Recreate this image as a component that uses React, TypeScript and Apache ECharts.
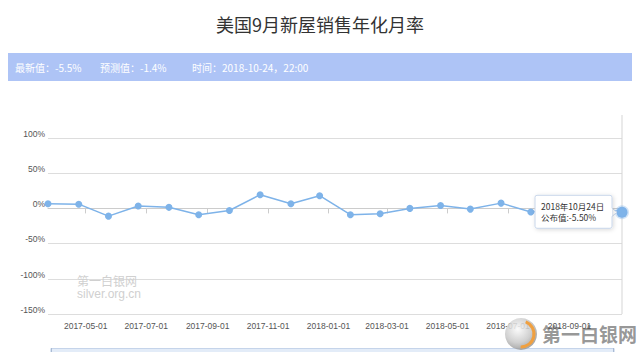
import React, { useEffect, useRef } from "react";
import * as echarts from "echarts";

const titleText = "美国9月新屋销售年化月率";
const bannerTexts = ["最新值：-5.5%", "预测值：-1.4%", "时间：2018-10-24，22:00"];
const releaseDates = [
  "2017-03-24", "2017-04-24", "2017-05-24", "2017-06-23", "2017-07-24",
  "2017-08-23", "2017-09-23", "2017-10-24", "2017-11-24", "2017-12-23",
  "2018-01-23", "2018-02-22", "2018-03-24", "2018-04-24", "2018-05-24",
  "2018-06-24", "2018-07-24", "2018-08-24", "2018-09-24", "2018-10-24",
];
const monthlyRates = [
  6.5, 6, -11, 3.5, 1.5, -9, -3, 19.5, 6.5, 18,
  -9, -7.5, 0, 4, -1, 7.5, -5, -1.7, 3.5, -5.5,
];
const yTicks = { min: -150, max: 100, interval: 50 };
const tooltipLines = ["2018年10月24日", "公布值:-5.50%"];
const watermarkLines = ["第一白银网", "silver.org.cn"];
const logoText = "第一白银网";

const LINE = "#7eb3e9";
const FONT = '"Liberation Sans", Arial, "Noto Sans CJK SC", sans-serif';
const CJK = '"Noto Sans CJK SC", "Microsoft YaHei", sans-serif';

function pad(n: number) {
  return n < 10 ? "0" + n : "" + n;
}

export default function App() {
  const ref = useRef<HTMLDivElement>(null);
  useEffect(() => {
    document.body.style.margin = "0";
    const chart = echarts.init(ref.current!, undefined, { renderer: "svg" });
    const data = releaseDates.map((d, i) => {
      const last = i === releaseDates.length - 1;
      return {
        value: [d, monthlyRates[i]],
        symbolSize: last ? 11 : 7,
        itemStyle: last
          ? { color: LINE, borderColor: "rgba(126,179,233,0.35)", borderWidth: 3 }
          : { color: LINE },
      };
    });
    chart.setOption({
      animation: false,
      title: {
        text: titleText,
        left: "center",
        top: 10,
        textStyle: { fontSize: 18, fontWeight: "normal", color: "#333", fontFamily: CJK },
      },
      grid: { left: 48, right: 18, top: 138, bottom: 38 },
      xAxis: {
        type: "time",
        min: "dataMin",
        max: "dataMax",
        splitNumber: 8,
        axisLine: { lineStyle: { color: "#ccc" } },
        axisTick: { show: true, length: 5, lineStyle: { color: "#ccc" } },
        splitLine: { show: false },
        axisLabel: {
          color: "#555",
          fontSize: 8.5,
          fontFamily: FONT,
          margin: 8,
          showMinLabel: false,
          showMaxLabel: false,
          hideOverlap: false,
          formatter: (v: number) => {
            const d = new Date(v);
            return d.getFullYear() + "-" + pad(d.getMonth() + 1) + "-" + pad(d.getDate());
          },
        },
      },
      yAxis: {
        type: "value",
        min: yTicks.min,
        max: yTicks.max,
        interval: yTicks.interval,
        axisLine: { show: false },
        axisTick: { show: false },
        splitLine: { lineStyle: { color: "#ddd" } },
        axisLabel: {
          formatter: "{value}%",
          color: "#555",
          fontSize: 8.5,
          fontFamily: FONT,
          margin: 3,
          verticalAlign: "bottom",
        },
      },
      dataZoom: [
        {
          type: "slider",
          xAxisIndex: 0,
          start: 0,
          end: 100,
          left: 48,
          right: 28,
          top: 348,
          height: 30,
          showDetail: false,
          brushSelect: false,
          moveHandleSize: 0,
          borderColor: "#c5d4ea",
          fillerColor: "rgba(200,218,242,0.45)",
          backgroundColor: "rgba(245,248,252,0.6)",
          handleStyle: { color: "#fff", borderColor: "#aabbd4" },
        },
      ],
      series: [
        {
          type: "line",
          data,
          symbol: "circle",
          showSymbol: true,
          lineStyle: { color: LINE, width: 1.5 },
          itemStyle: { color: LINE },
          z: 3,
        },
      ],
    });

    const lastIdx = releaseDates.length - 1;
    const [px, py] = chart.convertToPixel({ seriesIndex: 0 }, [
      releaseDates[lastIdx],
      monthlyRates[lastIdx],
    ]) as number[];
    const yTop = chart.convertToPixel({ yAxisIndex: 0 }, yTicks.max) as number;
    const yBottom = chart.convertToPixel({ yAxisIndex: 0 }, yTicks.min) as number;

    const tipW = 77;
    const tipH = 33;
    const tipX = px - 87;
    const tipY = py - 17;

    chart.setOption({
      graphic: [
        {
          type: "rect",
          shape: { x: 8, y: 53, width: 624, height: 28 },
          style: { fill: "#aec4f6" },
          silent: true,
        },
        ...bannerTexts.map((t, i) => ({
          type: "text",
          x: [15, 100, 192][i],
          y: 67,
          style: {
            text: t,
            fill: "#fff",
            fontSize: 10,
            fontFamily: CJK,
            verticalAlign: "middle",
          },
        })),
        {
          type: "line",
          shape: { x1: px, y1: yTop - 23, x2: px, y2: yBottom },
          style: { stroke: "#d5d5d5", lineWidth: 1 },
          z: 1,
        },
        {
          type: "text",
          x: 77,
          y: 280,
          style: {
            text: watermarkLines[0],
            fill: "#d0d0d0",
            fontSize: 12,
            fontFamily: CJK,
            verticalAlign: "middle",
          },
          z: 0,
        },
        {
          type: "text",
          x: 77,
          y: 294,
          style: {
            text: watermarkLines[1],
            fill: "#d0d0d0",
            fontSize: 12,
            fontFamily: FONT,
            verticalAlign: "middle",
          },
          z: 0,
        },
        {
          type: "polygon",
          shape: {
            points: [
              [tipX + tipW - 1, py - 5],
              [tipX + tipW + 5, py],
              [tipX + tipW - 1, py + 5],
            ],
          },
          style: { fill: "#fff", stroke: "#c8d6ea", lineWidth: 1 },
          z: 10,
        },
        {
          type: "rect",
          shape: { x: tipX, y: tipY, width: tipW, height: tipH, r: 2 },
          style: {
            fill: "#fff",
            stroke: "#c8d6ea",
            lineWidth: 1,
            shadowBlur: 4,
            shadowColor: "rgba(0,0,0,0.15)",
            shadowOffsetX: 1,
            shadowOffsetY: 1,
          },
          z: 11,
        },
        {
          type: "rect",
          shape: { x: tipX + tipW - 2, y: py - 4, width: 2, height: 8 },
          style: { fill: "#fff" },
          z: 12,
        },
        ...tooltipLines.map((t, i) => ({
          type: "text",
          x: tipX + 6,
          y: tipY + 11 + i * 11,
          style: {
            text: t,
            fill: "#333",
            fontSize: 8.5,
            fontFamily: CJK,
            verticalAlign: "middle",
          },
          z: 13,
        })),
        {
          type: "circle",
          shape: { cx: 521, cy: 334, r: 16 },
          style: {
            fill: {
              type: "radial",
              x: 0.4,
              y: 0.35,
              r: 0.7,
              colorStops: [
                { offset: 0, color: "#fafafa" },
                { offset: 0.6, color: "#c8c8c8" },
                { offset: 1, color: "#8f8f8f" },
              ],
            },
            opacity: 0.85,
          },
          z: 20,
        },
        {
          type: "arc",
          shape: { cx: 521, cy: 334, r: 13, startAngle: -1.2, endAngle: 1.6 },
          style: { stroke: "#f0a040", lineWidth: 3, fill: "none" },
          z: 21,
        },
        {
          type: "text",
          x: 542,
          y: 333,
          style: {
            text: logoText,
            fill: "#8a8a8a",
            stroke: "#fff",
            lineWidth: 1,
            fontSize: 19,
            fontWeight: "bold",
            fontFamily: CJK,
            verticalAlign: "middle",
            opacity: 0.9,
          },
          z: 0,
        },
      ],
    });
    return () => chart.dispose();
  }, []);
  return (
    <div
      ref={ref}
      style={{ position: "fixed", left: 0, top: 0, width: 640, height: 352, background: "#fff" }}
    />
  );
}
